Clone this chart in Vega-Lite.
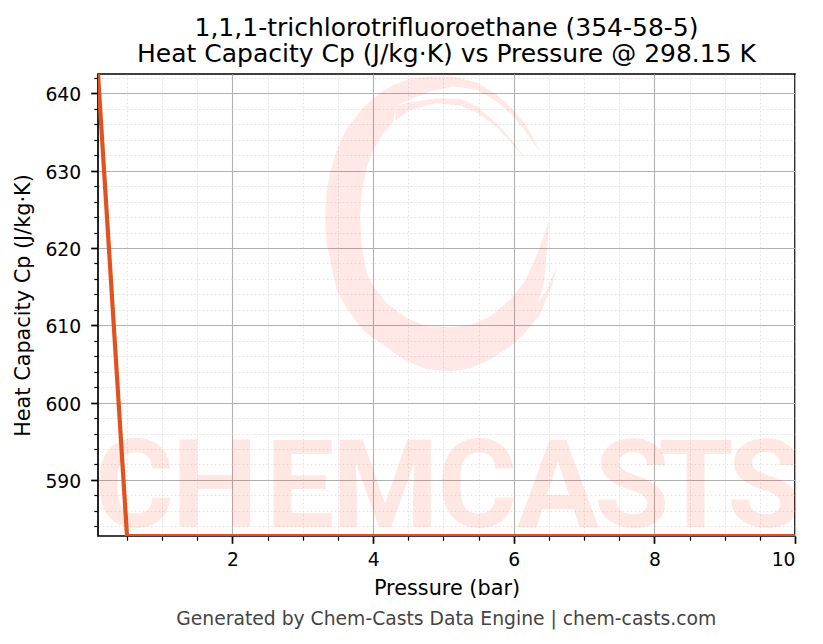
{
  "$schema": "https://vega.github.io/schema/vega-lite/v6.json",
  "width": 697,
  "height": 462,
  "autosize": "none",
  "padding": {"left": 98, "top": 74, "right": 28, "bottom": 108},
  "background": "white",
  "title": {
    "text": ["1,1,1-trichlorotrifluoroethane (354-58-5)", "Heat Capacity Cp (J/kg·K) vs Pressure @ 298.15 K"],
    "font": "DejaVu Sans",
    "fontSize": 25,
    "fontWeight": "normal",
    "color": "black",
    "anchor": "middle",
    "lineHeight": 26,
    "offset": 7
  },
  "config": {
    "view": {"stroke": "black", "strokeWidth": 1.7},
    "axis": {
      "labelFont": "DejaVu Sans",
      "titleFont": "DejaVu Sans",
      "labelFontSize": 18.75,
      "titleFontSize": 20.8,
      "titleFontWeight": "normal",
      "labelColor": "black",
      "titleColor": "black",
      "tickColor": "black"
    }
  },
  "datasets": {
    "cp": [
      {"pressure": 0.0875, "cp": 642.5},
      {"pressure": 0.5, "cp": 582.75},
      {"pressure": 1, "cp": 582.75},
      {"pressure": 2, "cp": 582.75},
      {"pressure": 4, "cp": 582.75},
      {"pressure": 6, "cp": 582.75},
      {"pressure": 8, "cp": 582.75},
      {"pressure": 10, "cp": 582.75}
    ],
    "logo": [
      {"part": "left", "x": 3.317, "y": 624.07, "y2": 624.07},
      {"part": "left", "x": 3.34, "y": 627.52, "y2": 620.62},
      {"part": "left", "x": 3.388, "y": 629.67, "y2": 618.46},
      {"part": "left", "x": 3.483, "y": 632.69, "y2": 614.58},
      {"part": "left", "x": 3.625, "y": 635.49, "y2": 612.21},
      {"part": "left", "x": 3.814, "y": 637.65, "y2": 609.84},
      {"part": "top", "x": 3.814, "y": 637.65, "y2": 624.07},
      {"part": "top", "x": 3.838, "y": 637.95, "y2": 627.09},
      {"part": "top", "x": 3.909, "y": 638.6, "y2": 630.53},
      {"part": "top", "x": 4.004, "y": 639.37, "y2": 632.69},
      {"part": "top", "x": 4.147, "y": 640.32, "y2": 634.85},
      {"part": "top", "x": 4.289, "y": 641.1, "y2": 636.36},
      {"part": "top", "x": 4.317, "y": 641.19, "y2": 638.38},
      {"part": "top", "x": 4.526, "y": 641.88, "y2": 639.25},
      {"part": "top", "x": 4.81, "y": 642.18, "y2": 640.24},
      {"part": "top", "x": 5.142, "y": 642.18, "y2": 640.88},
      {"part": "top", "x": 5.474, "y": 641.4, "y2": 640.45},
      {"part": "top", "x": 5.759, "y": 639.81, "y2": 638.94},
      {"part": "top", "x": 5.996, "y": 637.87, "y2": 637.0},
      {"part": "top", "x": 6.186, "y": 635.71, "y2": 634.85},
      {"part": "top", "x": 6.375, "y": 632.48, "y2": 632.48},
      {"part": "arm", "x": 4.317, "y": 638.38, "y2": 636.49},
      {"part": "arm", "x": 4.526, "y": 638.81, "y2": 637.87},
      {"part": "arm", "x": 4.905, "y": 639.37, "y2": 638.73},
      {"part": "arm", "x": 5.237, "y": 639.29, "y2": 638.43},
      {"part": "arm", "x": 5.474, "y": 638.3, "y2": 637.52},
      {"part": "arm", "x": 5.759, "y": 636.14, "y2": 635.62},
      {"part": "arm", "x": 5.948, "y": 634.2, "y2": 633.77},
      {"part": "arm", "x": 6.138, "y": 631.83, "y2": 631.74},
      {"part": "bottom", "x": 3.814, "y": 624.07, "y2": 609.84},
      {"part": "bottom", "x": 3.838, "y": 620.19, "y2": 609.62},
      {"part": "bottom", "x": 3.909, "y": 616.74, "y2": 608.98},
      {"part": "bottom", "x": 4.004, "y": 615.01, "y2": 608.33},
      {"part": "bottom", "x": 4.194, "y": 612.86, "y2": 607.16},
      {"part": "bottom", "x": 4.478, "y": 610.92, "y2": 605.31},
      {"part": "bottom", "x": 4.763, "y": 609.92, "y2": 604.32},
      {"part": "bottom", "x": 5.095, "y": 609.75, "y2": 604.02},
      {"part": "bottom", "x": 5.379, "y": 610.05, "y2": 604.45},
      {"part": "bottom", "x": 5.664, "y": 611.13, "y2": 605.53},
      {"part": "bottom", "x": 5.948, "y": 613.29, "y2": 607.25},
      {"part": "bottom", "x": 6.138, "y": 615.44, "y2": 608.76},
      {"part": "bottom", "x": 6.233, "y": 617.17, "y2": 609.84},
      {"part": "bottom", "x": 6.347, "y": 619.54, "y2": 611.13},
      {"part": "bottom", "x": 6.351, "y": 619.63, "y2": 613.2},
      {"part": "bottom", "x": 6.423, "y": 621.48, "y2": 615.01},
      {"part": "bottom", "x": 6.461, "y": 622.43, "y2": 618.46},
      {"part": "bottom", "x": 6.498, "y": 623.64, "y2": 622.77},
      {"part": "tail", "x": 6.351, "y": 613.07, "y2": 610.92},
      {"part": "tail", "x": 6.423, "y": 613.93, "y2": 612.42},
      {"part": "tail", "x": 6.47, "y": 614.58, "y2": 613.5},
      {"part": "tail", "x": 6.541, "y": 616.09, "y2": 615.01},
      {"part": "tail", "x": 6.612, "y": 617.6, "y2": 617.51}
    ],
    "letters": [
      {"letter": "C", "x": 0.6, "y": 583.9},
      {"letter": "H", "x": 1.75, "y": 583.9},
      {"letter": "E", "x": 2.96, "y": 583.9},
      {"letter": "M", "x": 4.17, "y": 583.9},
      {"letter": "C", "x": 5.48, "y": 583.9},
      {"letter": "A", "x": 6.63, "y": 583.9},
      {"letter": "S", "x": 7.68, "y": 583.9},
      {"letter": "T", "x": 8.59, "y": 583.9},
      {"letter": "S", "x": 9.57, "y": 583.9}
    ],
    "footer": [
      {"label": "Generated by Chem-Casts Data Engine | chem-casts.com", "x": 5.04, "y": 572.0}
    ]
  },
  "resolve": {"axis": {"x": "independent", "y": "independent"}},
  "layer": [
    {
      "data": {"name": "cp"},
      "mark": {"type": "line", "opacity": 0},
      "encoding": {
        "x": {
          "field": "pressure",
          "type": "quantitative",
          "scale": {"domain": [0.0875, 10], "nice": false, "zero": false},
          "axis": {
            "orient": "bottom",
            "values": [0.5, 1, 1.5, 2.5, 3, 3.5, 4.5, 5, 5.5, 6.5, 7, 7.5, 8.5, 9, 9.5],
            "labels": false,
            "title": null,
            "domain": false,
            "tickSize": 4.2,
            "tickWidth": 1.2,
            "grid": true,
            "gridColor": "#cccccc",
            "gridWidth": 0.7,
            "gridDash": [2, 2],
            "gridOpacity": 0.65
          }
        },
        "y": {
          "field": "cp",
          "type": "quantitative",
          "scale": {"domain": [582.75, 642.5], "nice": false, "zero": false},
          "axis": {
            "orient": "left",
            "values": [584, 586, 588, 592, 594, 596, 598, 602, 604, 606, 608, 612, 614, 616, 618, 622, 624, 626, 628, 632, 634, 636, 638, 642],
            "labels": false,
            "title": null,
            "domain": false,
            "tickSize": 4.2,
            "tickWidth": 1.2,
            "grid": true,
            "gridColor": "#cccccc",
            "gridWidth": 0.7,
            "gridDash": [2, 2],
            "gridOpacity": 0.65
          }
        }
      }
    },
    {
      "data": {"name": "cp"},
      "mark": {"type": "line", "opacity": 0},
      "encoding": {
        "x": {
          "field": "pressure",
          "type": "quantitative",
          "axis": {
            "orient": "bottom",
            "values": [2, 4, 6, 8, 10],
            "title": "Pressure (bar)",
            "domain": false,
            "tickSize": 7.3,
            "tickWidth": 1.7,
            "labelPadding": 7,
            "titlePadding": 9,
            "grid": true,
            "gridColor": "#b0b0b0",
            "gridWidth": 1.1
          }
        },
        "y": {
          "field": "cp",
          "type": "quantitative",
          "axis": {
            "orient": "left",
            "values": [590, 600, 610, 620, 630, 640],
            "title": "Heat Capacity Cp (J/kg·K)",
            "domain": false,
            "tickSize": 7.3,
            "tickWidth": 1.7,
            "labelPadding": 10,
            "labelOffset": 1.5,
            "titlePadding": 11,
            "grid": true,
            "gridColor": "#b0b0b0",
            "gridWidth": 1.1
          }
        }
      }
    },
    {
      "data": {"name": "logo"},
      "mark": {"type": "area", "color": "#ff3010", "opacity": 0.11, "clip": true},
      "encoding": {
        "x": {"field": "x", "type": "quantitative", "axis": null},
        "y": {"field": "y", "type": "quantitative", "axis": null},
        "y2": {"field": "y2"},
        "detail": {"field": "part"}
      }
    },
    {
      "data": {"name": "letters"},
      "mark": {
        "type": "text",
        "font": "Roboto",
        "fontWeight": "bold",
        "fontSize": 122,
        "align": "center",
        "baseline": "alphabetic",
        "color": "#ff3010",
        "opacity": 0.11,
        "clip": true
      },
      "encoding": {
        "x": {"field": "x", "type": "quantitative", "axis": null},
        "y": {"field": "y", "type": "quantitative", "axis": null},
        "text": {"field": "letter"}
      }
    },
    {
      "data": {"name": "cp"},
      "mark": {"type": "line", "color": "#e0531f", "strokeWidth": 4.2, "clip": true},
      "encoding": {
        "x": {"field": "pressure", "type": "quantitative", "axis": null},
        "y": {"field": "cp", "type": "quantitative", "axis": null}
      }
    },
    {
      "data": {"name": "footer"},
      "mark": {
        "type": "text",
        "font": "DejaVu Sans",
        "fontSize": 18.75,
        "color": "#444444",
        "align": "center",
        "baseline": "middle"
      },
      "encoding": {
        "x": {"field": "x", "type": "quantitative", "axis": null},
        "y": {"field": "y", "type": "quantitative", "axis": null},
        "text": {"field": "label"}
      }
    }
  ]
}
